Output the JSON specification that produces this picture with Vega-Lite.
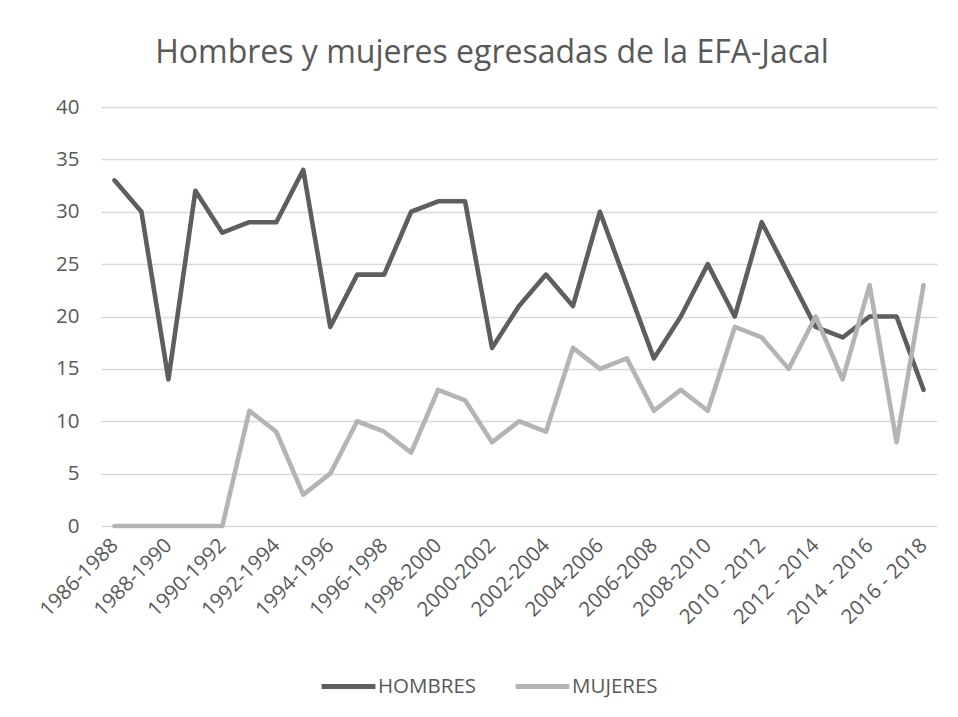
{
  "$schema": "https://vega.github.io/schema/vega-lite/v6.json",
  "width": 836,
  "height": 419,
  "autosize": {"type": "none"},
  "padding": {"left": 101, "top": 107, "right": 21, "bottom": 191},
  "background": "white",
  "config": {"font": "Open Sans", "view": {"stroke": null}},
  "title": {
    "text": "Hombres y mujeres egresadas de la EFA-Jacal",
    "fontSize": 32,
    "fontWeight": "normal",
    "color": "#595959",
    "font": "Open Sans",
    "anchor": "middle",
    "dx": -27,
    "offset": 27
  },
  "data": {
    "values": [
      {"periodo": "1986-1988", "HOMBRES": 33, "MUJERES": 0},
      {"periodo": "1987-1989", "HOMBRES": 30, "MUJERES": 0},
      {"periodo": "1988-1990", "HOMBRES": 14, "MUJERES": 0},
      {"periodo": "1989-1991", "HOMBRES": 32, "MUJERES": 0},
      {"periodo": "1990-1992", "HOMBRES": 28, "MUJERES": 0},
      {"periodo": "1991-1993", "HOMBRES": 29, "MUJERES": 11},
      {"periodo": "1992-1994", "HOMBRES": 29, "MUJERES": 9},
      {"periodo": "1993-1995", "HOMBRES": 34, "MUJERES": 3},
      {"periodo": "1994-1996", "HOMBRES": 19, "MUJERES": 5},
      {"periodo": "1995-1997", "HOMBRES": 24, "MUJERES": 10},
      {"periodo": "1996-1998", "HOMBRES": 24, "MUJERES": 9},
      {"periodo": "1997-1999", "HOMBRES": 30, "MUJERES": 7},
      {"periodo": "1998-2000", "HOMBRES": 31, "MUJERES": 13},
      {"periodo": "1999-2001", "HOMBRES": 31, "MUJERES": 12},
      {"periodo": "2000-2002", "HOMBRES": 17, "MUJERES": 8},
      {"periodo": "2001-2003", "HOMBRES": 21, "MUJERES": 10},
      {"periodo": "2002-2004", "HOMBRES": 24, "MUJERES": 9},
      {"periodo": "2003-2005", "HOMBRES": 21, "MUJERES": 17},
      {"periodo": "2004-2006", "HOMBRES": 30, "MUJERES": 15},
      {"periodo": "2005-2007", "HOMBRES": 23, "MUJERES": 16},
      {"periodo": "2006-2008", "HOMBRES": 16, "MUJERES": 11},
      {"periodo": "2007-2009", "HOMBRES": 20, "MUJERES": 13},
      {"periodo": "2008-2010", "HOMBRES": 25, "MUJERES": 11},
      {"periodo": "2009-2011", "HOMBRES": 20, "MUJERES": 19},
      {"periodo": "2010 - 2012", "HOMBRES": 29, "MUJERES": 18},
      {"periodo": "2011 - 2013", "HOMBRES": 24, "MUJERES": 15},
      {"periodo": "2012 - 2014", "HOMBRES": 19, "MUJERES": 20},
      {"periodo": "2013 - 2015", "HOMBRES": 18, "MUJERES": 14},
      {"periodo": "2014 - 2016", "HOMBRES": 20, "MUJERES": 23},
      {"periodo": "2015 - 2017", "HOMBRES": 20, "MUJERES": 8},
      {"periodo": "2016 - 2018", "HOMBRES": 13, "MUJERES": 23}
    ]
  },
  "transform": [{"fold": ["HOMBRES", "MUJERES"], "as": ["serie", "valor"]}],
  "mark": {"type": "line", "strokeWidth": 4.6, "strokeCap": "round", "strokeJoin": "round"},
  "encoding": {
    "x": {
      "field": "periodo",
      "type": "nominal",
      "sort": null,
      "scale": {"type": "point", "padding": 0.5},
      "axis": {
        "title": null,
        "values": ["1986-1988", "1988-1990", "1990-1992", "1992-1994", "1994-1996", "1996-1998", "1998-2000", "2000-2002", "2002-2004", "2004-2006", "2006-2008", "2008-2010", "2010 - 2012", "2012 - 2014", "2014 - 2016", "2016 - 2018"],
        "labelAngle": -45,
        "labelAlign": "right",
        "labelBaseline": "middle",
        "labelPadding": 16,
        "labelFontSize": 20.5,
        "labelColor": "#595959",
        "labelOverlap": false,
        "ticks": false,
        "domain": false,
        "grid": false
      }
    },
    "y": {
      "field": "valor",
      "type": "quantitative",
      "scale": {"domain": [0, 40], "nice": false},
      "axis": {
        "title": null,
        "values": [0, 5, 10, 15, 20, 25, 30, 35, 40],
        "labelFontSize": 20.5,
        "labelColor": "#595959",
        "labelPadding": 22,
        "ticks": false,
        "domain": false,
        "gridColor": "#d9d9d9",
        "gridWidth": 1.3
      }
    },
    "color": {
      "field": "serie",
      "type": "nominal",
      "scale": {"domain": ["HOMBRES", "MUJERES"], "range": ["#5e5e5e", "#b4b4b4"]},
      "legend": {
        "title": null,
        "orient": "none",
        "legendX": 218,
        "legendY": 550,
        "direction": "horizontal",
        "symbolType": "stroke",
        "symbolSize": 2900,
        "symbolStrokeWidth": 5,
        "labelFontSize": 20.5,
        "labelColor": "#595959",
        "labelOffset": 0,
        "columnPadding": 28
      }
    }
  }
}
